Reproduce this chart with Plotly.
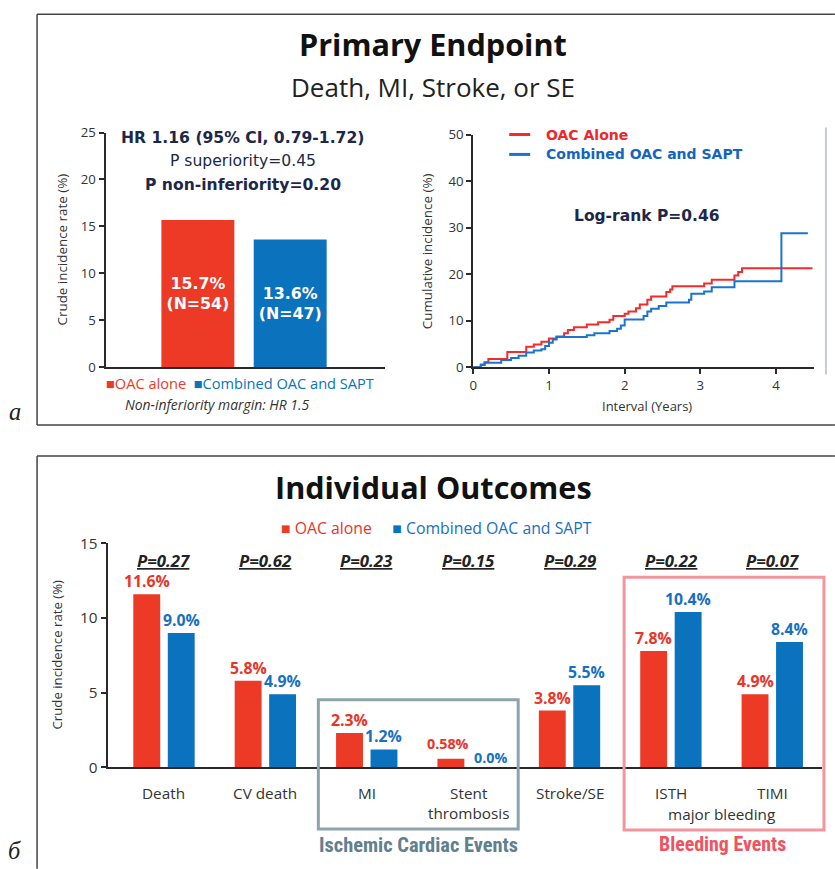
import plotly.graph_objects as go

W, H = 835, 869
# The page is displayed inside the browser's default body margin and then fitted
# back to W x H; positions below are given in displayed pixels and converted.
PAD_Y = 8
KY = (H + 2 * PAD_Y) / H
SX, OX = 0.996, 4.4


def px(x):
    return ((x - OX) / SX) / W


def py(y):
    return 1 - (y * KY - PAD_Y) / H


def fs(s):
    return round(s * KY, 1)


RED = "#ec3a26"
BLUE = "#0b72bd"
RED_TXT = "#ea3428"
BLUE_TXT = "#1770c2"
NAVY = "#1d2748"
AX = "#2a2a2a"
FONT = "Open Sans, Noto Sans, sans-serif"
WIDE = "DejaVu Sans, Verdana, sans-serif"
NARROW = "Liberation Sans Narrow, Roboto Condensed, Roboto, sans-serif"

# ---- Primary endpoint: crude incidence ----
primary_groups = ["OAC alone", "Combined OAC and SAPT"]
primary_rates = [15.7, 13.6]
primary_n = [54, 47]

# ---- Primary endpoint: cumulative incidence curves ----
oac_t = [0, 0.10, 0.15, 0.20, 0.45, 0.70, 0.80, 0.90, 1.00, 1.10, 1.20, 1.25, 1.33,
         1.50, 1.65, 1.80, 1.85, 2.00, 2.05, 2.15, 2.20, 2.30, 2.35, 2.55, 2.60, 2.63,
         3.05, 3.15, 3.45, 3.50, 3.55, 4.48]
oac_y = [0, 0.6, 1.1, 1.8, 3.3, 4.4, 4.9, 5.5, 6.2, 6.6, 7.3, 8.0, 8.6,
         9.2, 9.7, 10.2, 11.0, 11.5, 12.0, 12.7, 13.5, 14.5, 15.2, 16.2, 16.7, 17.4,
         18.0, 18.8, 19.7, 20.5, 21.3, 21.3]
combo_t = [0, 0.10, 0.15, 0.37, 0.50, 0.60, 0.70, 0.80, 0.90, 0.95, 1.00, 1.05, 1.10,
           1.50, 1.60, 1.80, 1.90, 1.95, 2.00, 2.25, 2.30, 2.35, 2.45, 2.55, 2.85, 2.88,
           3.05, 3.15, 3.45, 4.07, 4.42]
combo_y = [0, 0.5, 1.0, 1.6, 2.0, 2.5, 3.2, 3.6, 3.9, 4.6, 5.3, 6.0, 6.5,
           6.9, 7.3, 7.8, 8.3, 9.0, 10.3, 11.0, 12.0, 12.6, 13.2, 13.9, 14.5, 15.8,
           16.3, 17.2, 18.5, 28.8, 28.8]

# ---- Individual outcomes ----
outcomes = ["Death", "CV death", "MI", "Stent<br>thrombosis", "Stroke/SE", "ISTH", "TIMI"]
oac_rates = [11.6, 5.8, 2.3, 0.58, 3.8, 7.8, 4.9]
combo_rates = [9.0, 4.9, 1.2, 0.0, 5.5, 10.4, 8.4]
p_values = ["0.27", "0.62", "0.23", "0.15", "0.29", "0.22", "0.07"]


def pct(v):
    return f"{v:.2f}%" if 0 < v < 1 else f"{v:.1f}%"


fig = go.Figure()

# Primary endpoint bars
fig.add_trace(go.Bar(
    x=primary_groups, y=primary_rates, customdata=primary_n,
    marker=dict(color=[RED, BLUE], line=dict(width=0)), width=0.79,
    texttemplate="%{y:.1f}%<br>(N=%{customdata})", textposition="inside",
    insidetextanchor="middle", constraintext="none",
    textfont=dict(family=WIDE, size=fs(15.5), color="white", weight="bold"),
    xaxis="x", yaxis="y", showlegend=False, hoverinfo="skip"))

# Cumulative incidence curves
fig.add_trace(go.Scatter(x=oac_t, y=oac_y, mode="lines", line=dict(color="#f52a2a", width=2, shape="hv"),
                         xaxis="x2", yaxis="y2", showlegend=False, hoverinfo="skip"))
fig.add_trace(go.Scatter(x=combo_t, y=combo_y, mode="lines", line=dict(color="#1a74cf", width=2, shape="hv"),
                         xaxis="x2", yaxis="y2", showlegend=False, hoverinfo="skip"))

# Individual outcome bars (paired within each outcome)
xs = list(range(len(outcomes)))
fig.add_trace(go.Bar(
    x=xs, y=oac_rates, marker=dict(color=RED, line=dict(width=0)),
    xaxis="x3", yaxis="y3", showlegend=False, hoverinfo="skip", offsetgroup="a"))
fig.add_trace(go.Bar(
    x=xs, y=combo_rates, marker=dict(color=BLUE, line=dict(width=0)),
    xaxis="x3", yaxis="y3", showlegend=False, hoverinfo="skip", offsetgroup="b"))

tickfont = dict(family=FONT, size=fs(13), color="#333")
axline = dict(showline=True, linecolor=AX, linewidth=2, showgrid=False, zeroline=False)

BARGAP, GROUPGAP = 0.32, 0.22
SLOT = (1 - BARGAP) / 2  # width of one bar slot inside a group

fig.update_layout(
    width=W, height=H, margin=dict(l=0, r=0, t=0, b=0),
    paper_bgcolor="white", plot_bgcolor="white",
    barmode="group", bargap=BARGAP, bargroupgap=GROUPGAP,
    font=dict(family=FONT, color="#333"),
    xaxis=dict(domain=[px(106), px(386)], range=[-1.0, 2.03], anchor="y",
               showticklabels=False, ticks="", **axline),
    yaxis=dict(domain=[py(366), py(130)], range=[0, 25], anchor="x", tickvals=[0, 5, 10, 15, 20, 25],
               ticks="outside", ticklen=5, tickwidth=1.5, tickcolor=AX, tickfont=tickfont, **axline),
    xaxis2=dict(domain=[px(474), px(815)], range=[0, 4.5], anchor="y2", tickvals=[0, 1, 2, 3, 4],
                ticks="outside", ticklen=5, tickwidth=1.5, tickcolor=AX, tickfont=tickfont, **axline),
    yaxis2=dict(domain=[py(366), py(132)], range=[0, 50], anchor="x2", tickvals=[0, 10, 20, 30, 40, 50],
                ticks="outside", ticklen=5, tickwidth=1.5, tickcolor=AX, tickfont=tickfont, **axline),
    xaxis3=dict(domain=[px(108), px(823)], range=[-0.557, 6.49], anchor="y3",
                showticklabels=False, ticks="", **axline),
    yaxis3=dict(domain=[py(768), py(543)], range=[0, 15], anchor="x3", tickvals=[0, 5, 10, 15],
                ticks="outside", ticklen=5, tickwidth=1.5, tickcolor=AX,
                tickfont=dict(family=FONT, size=fs(15), color="#333"), **axline),
)

ann = []


def text(t, x, y, size, color="#222", xanchor="center", yanchor="middle", angle=0,
         family=FONT, xref="paper", yref="paper", yshift=0):
    ann.append(dict(text=t, x=x if xref != "paper" else px(x),
                    y=y if yref != "paper" else py(y), xref=xref, yref=yref,
                    xanchor=xanchor, yanchor=yanchor, showarrow=False, textangle=angle,
                    yshift=yshift, font=dict(family=family, size=fs(size), color=color)))


# Panel a
text("<b>Primary Endpoint</b>", 434, 41, 30, "#111")
text("Death, MI, Stroke, or SE", 434, 84, 25.5, "#222")
text("<b>HR 1.16 (95% CI, 0.79-1.72)</b>", 243, 135, 15.3, NAVY, family=WIDE)
text("P superiority=0.45", 244, 159, 15.3, NAVY, family=WIDE)
text("<b>P non-inferiority=0.20</b>", 244, 183, 15.3, NAVY, family=WIDE)
text("Crude incidence rate (%)", 62, 248, 13.2, "#333", angle=-90)
text(f"<span style='color:{RED}'>■{primary_groups[0]}</span>  "
     f"<span style='color:{BLUE}'>■{primary_groups[1]}</span>", 104, 382, 14.3, xanchor="left")
text("<i>Non-inferiority margin: HR 1.5</i>", 218, 403, 13.6, "#333")

text("Cumulative incidence (%)", 428, 249, 13.2, "#333", angle=-90)
text("Interval (Years)", 648, 405, 12.8, "#333")
text("<b>OAC Alone</b>", 545, 132, 13.7, "#f0262a", xanchor="left", family=WIDE)
text("<b>Combined OAC and SAPT</b>", 545, 152, 13.7, "#1565c0", xanchor="left", family=WIDE)
text("<b>Log-rank P=0.46</b>", 648, 214, 15.2, NAVY, family=WIDE)

# Panel б
text("<b>Individual Outcomes</b>", 434, 486, 30, "#111")
text(f"<span style='color:{RED}'>■ </span><span style='color:{RED_TXT}'>OAC alone</span>     "
     f"<span style='color:{BLUE}'>■ </span><span style='color:{BLUE_TXT}'>Combined OAC and SAPT</span>",
     280, 527, 15.5, xanchor="left")
text("Crude incidence rate (%)", 57, 655, 13, "#333", angle=-90)
for i, (name, p) in enumerate(zip(outcomes, p_values)):
    text(f"<b><i><u>P={p}</u></i></b>", i, 560, 16.5, "#222", xref="x3")
    text(name, i, 782, 15, "#333", yanchor="top", xref="x3")
    # value labels sit just above each bar
    rv, bv = oac_rates[i], combo_rates[i]
    small = rv < 1 or bv < 1
    text(f"<b>{pct(rv)}</b>", i - SLOT / 2 - (0.03 if small else 0), rv, 14 if small else 15.5,
         RED_TXT, yanchor="bottom", xref="x3", yref="y3", yshift=4 if small else 0)
    text(f"<b>{pct(bv)}</b>", i + SLOT / 2 + (0.05 if small else 0), bv, 14 if small else 15.5,
         BLUE_TXT, yanchor="bottom", xref="x3", yref="y3", yshift=-2 if small else 0)
text("major bleeding", 5.5, 815, 15, "#333", xref="x3")
text("<b>Ischemic Cardiac Events</b>", 419, 846, 20, "#60808d", family=NARROW)
text("<b>Bleeding Events</b>", 723, 846, 19.5, "#f0525e", family=NARROW)

# Panel letters
text("<i>a</i>", 15, 410, 24, "#222", family="Liberation Serif, DejaVu Serif, serif")
text("<i>б</i>", 15, 852, 24, "#222", family="Liberation Serif, DejaVu Serif, serif")

fig.update_layout(annotations=ann)

shapes = []


def line(x0, y0, x1, y1, color, width):
    shapes.append(dict(type="line", xref="paper", yref="paper", x0=px(x0), y0=py(y0),
                       x1=px(x1), y1=py(y1), line=dict(color=color, width=width)))


def rect(x0, y0, x1, y1, color, width):
    shapes.append(dict(type="rect", xref="paper", yref="paper", x0=px(x0), y0=py(y0),
                       x1=px(x1), y1=py(y1), line=dict(color=color, width=width)))


# Panel frames
line(37.5, 11, 836, 11, "#444", 1.5)
line(37.5, 11, 37.5, 424, "#444", 1.5)
line(37.5, 424, 836, 424, "#444", 1.5)
line(37.5, 455, 836, 455, "#444", 1.5)
line(37.5, 455, 37.5, 870, "#444", 1.5)
line(827, 125, 827, 373, "#c5ccd0", 2)

# Legend keys for the curves
line(510, 132, 531, 132, "#f52a2a", 3)
line(510, 152, 531, 152, "#1a74cf", 3)

# Outcome group boxes
rect(319, 700, 519, 830, "#8ea3ab", 3)
rect(625, 577, 825, 831, "#f4959e", 3)

fig.update_layout(shapes=shapes)

fig.write_html("out.html")
